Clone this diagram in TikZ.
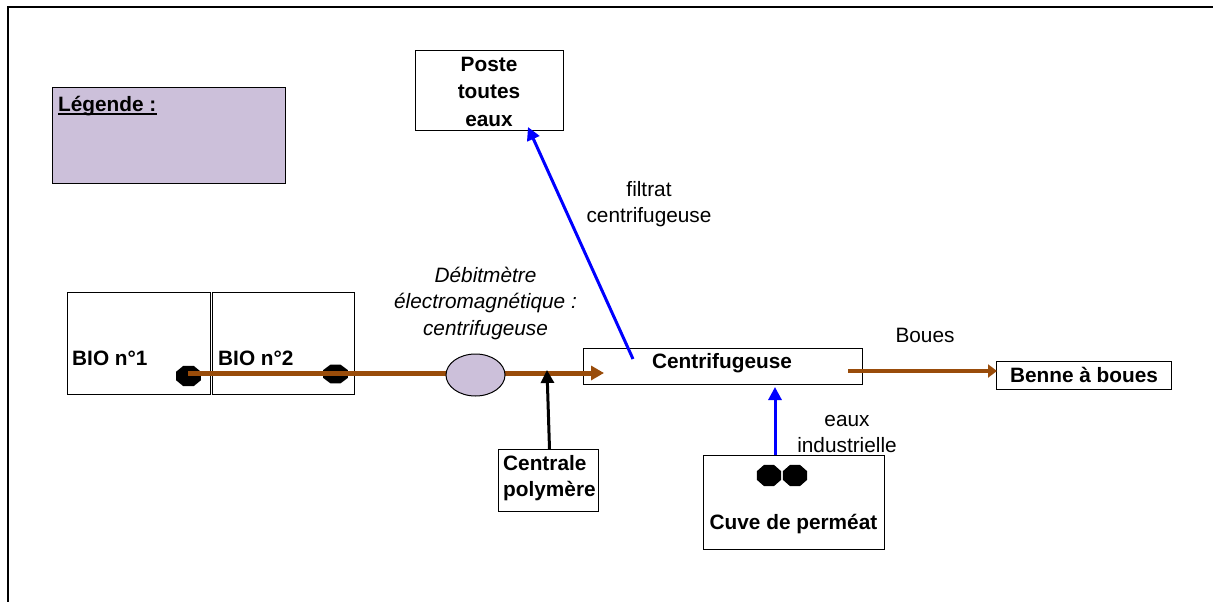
\documentclass[tikz,border=0pt]{standalone}
\usepackage{fontspec}
\setmainfont{Liberation Sans}
\usetikzlibrary{arrows.meta,shapes.geometric}
\definecolor{lilac}{RGB}{204,192,218}
\definecolor{sludge}{RGB}{153,76,10}
\definecolor{purewater}{RGB}{0,0,255}
\tikzset{
 x=1pt,y=-1pt,
 boxnode/.style={draw=black,line width=1.2pt,fill=white,inner sep=0pt,anchor=north west,align=center},
 lab/.style={font=\fontsize{20.8}{26}\selectfont,inner sep=0pt,anchor=base},
 ilab/.style={font=\fontsize{20.8}{26}\selectfont\itshape,inner sep=0pt,anchor=base},
 blab/.style={font=\fontsize{20.8}{27}\selectfont\bfseries,inner sep=0pt,anchor=base},
 valve/.style={regular polygon,regular polygon sides=8,fill=black,draw=none,inner sep=0pt,minimum size=28pt},
 sludgeline/.style={draw=sludge,line width=5pt},
 sludgearrow/.style={sludgeline,-{Triangle[length=13pt,width=14pt]}},
 sludgearrowb/.style={draw=sludge,line width=4pt,-{Triangle[length=9pt,width=13pt]}},
 bluearrow/.style={draw=purewater,line width=3pt,-{Triangle[length=13pt,width=13pt]}},
 blackarrow/.style={draw=black,line width=3pt,-{Triangle[length=13pt,width=13pt]}},
}
\begin{document}
\begin{tikzpicture}
\useasboundingbox (0,0) rectangle (1213,602);
\draw[black,line width=2pt] (8,602) -- (8,7.5) -- (1213,7.5);
\node[boxnode,fill=lilac,minimum width=233pt,minimum height=96pt] (leg) at (52,87) {};
\node[blab,anchor=base west] (legt) at (58,111) {Légende :};
\draw[black,line width=2pt] (legt.base west)++(0,2.5) -- ([yshift=-2.5pt]legt.base east);
\node[boxnode,minimum width=148pt,minimum height=80pt] (poste) at (415,50) {};
\node[blab] (poste1) at (489,72) {Poste};
\node[blab] (poste2) at (489,99) {toutes};
\node[blab] (poste3) at (489,126) {eaux};
\node[boxnode,minimum width=143pt,minimum height=102pt] (bio1) at (67,292) {};
\node[boxnode,minimum width=142pt,minimum height=102pt] (bio2) at (212,292) {};
\node[blab,anchor=base west] (bio1t) at (72,365) {BIO n°1};
\node[blab,anchor=base west] (bio2t) at (218,365) {BIO n°2};
\node[valve,xscale=.96,yscale=.79] (v1) at (188.5,376) {};
\node[valve,xscale=.96,yscale=.72] (v2) at (335.5,374) {};
\node[boxnode,minimum width=279pt,minimum height=36pt] (cent) at (583,348) {};
\node[blab] (centt) at (722,368) {Centrifugeuse};
\node[boxnode,minimum width=175pt,minimum height=28pt] (benne) at (996,361) {};
\node[blab] (bennet) at (1084,382) {Benne à boues};
\node[boxnode,minimum width=100pt,minimum height=62pt] (poly) at (498,449) {};
\node[blab,anchor=base west] (poly1) at (503,470.5) {Centrale};
\node[blab,anchor=base west] (poly2) at (503,496.5) {polymère};
\node[boxnode,minimum width=181pt,minimum height=94pt] (cuve) at (703,455) {};
\node[blab] (cuvet) at (793.5,529) {Cuve de perméat};
\node[valve,xscale=.93,yscale=.82] (v3) at (769,475.5) {};
\node[valve,xscale=.93,yscale=.82] (v4) at (795,475.5) {};
\coordinate (a0) at (188,373);
\coordinate (a1) at (446,373);
\coordinate (a2) at (604,373);
\draw[sludgeline] (a0) -- (a1);
\draw[sludgearrow] (a1) -- (a2);
\node[ellipse,draw=black,line width=1pt,fill=lilac,minimum width=59pt,minimum height=42pt,inner sep=0pt] (deb) at (475.5,375) {};
\coordinate (c1) at (633,359);
\coordinate (p1) at (528,127);
\draw[bluearrow] (c1) -- (p1);
\coordinate (j1) at (547,370);
\coordinate (j0) at (549.5,449);
\draw[blackarrow] (j0) -- (j1);
\coordinate (k0) at (775,455);
\coordinate (k1) at (775,387);
\draw[bluearrow] (k0) -- (k1);
\coordinate (b0) at (848,371);
\coordinate (b1) at (997,371);
\draw[sludgearrowb] (b0) -- (b1);
\node[ilab] (deb1) at (485.5,282) {Débitmètre};
\node[ilab] (deb2) at (485.5,308.5) {électromagnétique :};
\node[ilab] (deb3) at (485.5,335) {centrifugeuse};
\node[lab] (fil1) at (649,196) {filtrat};
\node[lab] (fil2) at (649,222) {centrifugeuse};
\node[lab] (bou) at (925,342) {Boues};
\node[lab] (eaux1) at (847,426) {eaux};
\node[lab] (eaux2) at (847,452) {industrielle};
\end{tikzpicture}
\end{document}
